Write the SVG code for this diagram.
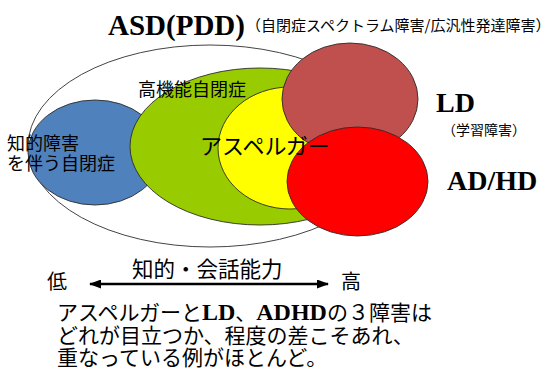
<svg xmlns="http://www.w3.org/2000/svg" width="556" height="376" viewBox="0 0 556 376">
<defs>
<style>
.ell{stroke:#2b2b2b;stroke-width:0.9}
.jp{font-family:"Noto Sans CJK JP","Noto Sans",sans-serif;fill:#000}
.en{font-family:"Liberation Serif","Times New Roman",serif;font-weight:bold;fill:#000}
</style>
<marker id="ah" viewBox="0 0 12 9" refX="11" refY="4.5" markerWidth="12" markerHeight="9" markerUnits="userSpaceOnUse" orient="auto-start-reverse">
<path d="M0,0 L12,4.5 L0,9 Z" fill="#000"/>
</marker>
</defs>
<rect width="556" height="376" fill="#fff"/>
<g id="asd">
<ellipse cx="210" cy="146" rx="182" ry="101" fill="#fff" stroke="#444" stroke-width="1"/>
</g>
<g id="id-autism">
<ellipse class="ell" cx="95" cy="152.5" rx="67" ry="52.5" fill="#4F81BD"/>
</g>
<g id="hfa">
<ellipse class="ell" cx="260" cy="146.5" rx="130" ry="78.5" fill="#99CC00"/>
</g>
<g id="asperger">
<ellipse class="ell" cx="290" cy="148" rx="72" ry="61" fill="#FFFF00"/>
</g>
<g id="ld">
<ellipse class="ell" cx="350" cy="99" rx="68" ry="56" fill="#C0504D"/>
</g>
<g id="adhd">
<ellipse class="ell" cx="357.5" cy="181.5" rx="70.5" ry="54.5" fill="#FF0000"/>
</g>
<g id="labels">
<text class="en" x="108" y="35" font-size="29">ASD(PDD)</text>
<text class="jp" x="246" y="31" font-size="15">（自閉症スペクトラム障害/広汎性発達障害）</text>
<text class="jp" x="138" y="96" font-size="18">高機能自閉症</text>
<text class="jp" x="7" y="150" font-size="18">知的障害</text>
<text class="jp" x="7" y="170" font-size="18">を伴う自閉症</text>
<text class="jp" x="200" y="154" font-size="22">アスペルガー</text>
<text class="en" x="436" y="112" font-size="28">LD</text>
<text class="jp" x="442" y="135" font-size="14">（学習障害）</text>
<text class="en" x="447" y="190" font-size="28">AD/HD</text>
</g>
<g id="connectors">
<line x1="90" y1="284" x2="328" y2="284" stroke="#000" stroke-width="2.5" marker-start="url(#ah)" marker-end="url(#ah)"/>
</g>
<g id="axis-labels">
<text class="jp" x="47" y="289" font-size="20">低</text>
<text class="jp" x="132" y="277" font-size="21.5">知的・会話能力</text>
<text class="jp" x="341" y="289" font-size="20">高</text>
</g>
<g id="note">
<text class="jp" x="57" y="320" font-size="21">アスペルガーと<tspan class="en" font-size="24">LD</tspan>、<tspan class="en" font-size="24">ADHD</tspan>の３障害は</text>
<text class="jp" x="57" y="343" font-size="21">どれが目立つか、程度の差こそあれ、</text>
<text class="jp" x="57" y="365" font-size="21">重なっている例がほとんど。</text>
</g>
</svg>
